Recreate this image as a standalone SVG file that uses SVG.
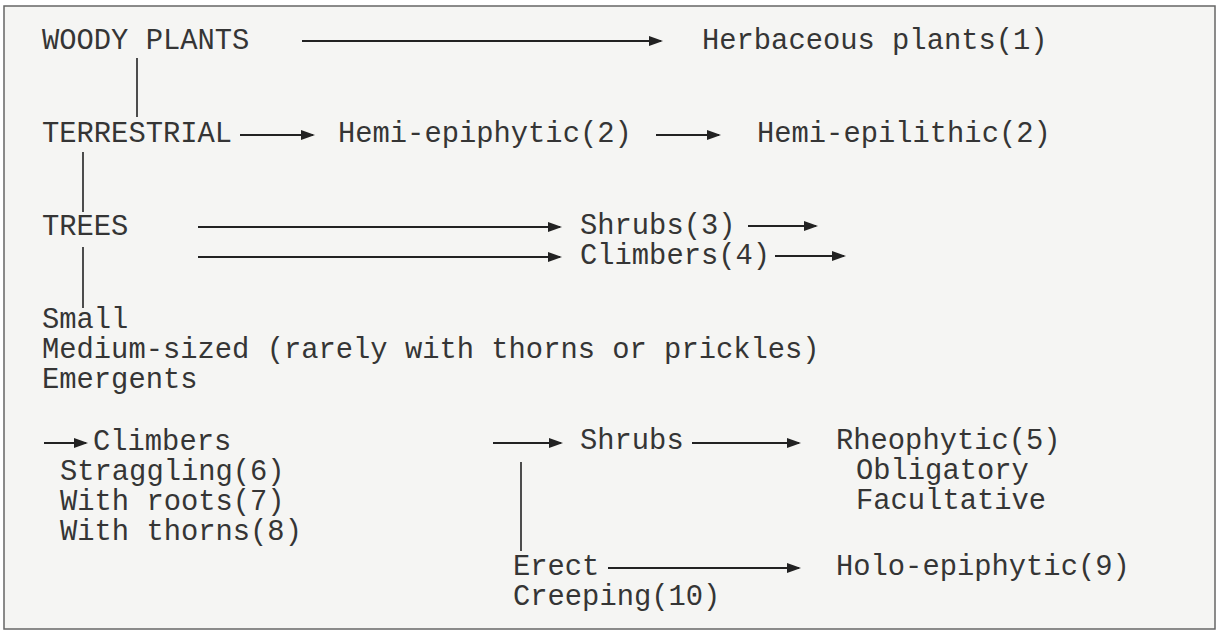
<svg xmlns="http://www.w3.org/2000/svg" width="1219" height="631" viewBox="0 0 1219 631">
<style>
text{font-family:"Liberation Mono","Courier New",monospace;font-size:28.8px;fill:#353535}
.c line{stroke:#222;stroke-width:2}
.c line.v{stroke-width:1.6}
.a{marker-end:url(#ah)}
</style>
<defs>
<marker id="ah" markerUnits="userSpaceOnUse" markerWidth="16" markerHeight="12" refX="12" refY="5" orient="auto">
<path d="M0,0 L14,5 L0,10 z" fill="#222"/>
</marker>
</defs>
<rect x="0" y="0" width="1219" height="631" fill="#fff"/>
<rect x="4" y="6" width="1211" height="623" fill="#f5f5f3" stroke="#666" stroke-width="1.5"/>
<g class="c" id="connectors">
<line class="a" x1="302" y1="41" x2="661" y2="41"/>
<line class="a" x1="240" y1="135" x2="313" y2="135"/>
<line class="a" x1="656" y1="135" x2="719" y2="135"/>
<line class="a" x1="198" y1="227" x2="560" y2="227"/>
<line class="a" x1="198" y1="257" x2="560" y2="257"/>
<line class="a" x1="748" y1="226" x2="816" y2="226"/>
<line class="a" x1="775" y1="256" x2="844" y2="256"/>
<line class="a" x1="44" y1="443" x2="86" y2="443"/>
<line class="a" x1="493" y1="443" x2="561" y2="443"/>
<line class="a" x1="692" y1="443" x2="799" y2="443"/>
<line class="a" x1="608" y1="568" x2="799" y2="568"/>
<line class="v" x1="137" y1="58" x2="137" y2="117"/>
<line class="v" x1="83" y1="152" x2="83" y2="212"/>
<line class="v" x1="83" y1="247" x2="83" y2="308"/>
<line class="v" x1="521" y1="462" x2="521" y2="551"/>
</g>
<g id="woody"><text x="42" y="49">WOODY PLANTS</text></g>
<g id="herbaceous"><text x="702" y="49">Herbaceous plants(1)</text></g>
<g id="terrestrial"><text x="42" y="142">TERRESTRIAL</text></g>
<g id="hemi-epiphytic"><text x="338" y="142">Hemi-epiphytic(2)</text></g>
<g id="hemi-epilithic"><text x="757" y="142">Hemi-epilithic(2)</text></g>
<g id="trees"><text x="42" y="235">TREES</text></g>
<g id="shrubs3"><text x="580" y="234">Shrubs(3)</text></g>
<g id="climbers4"><text x="580" y="264">Climbers(4)</text></g>
<g id="tree-sizes">
<text x="42" y="328">Small</text>
<text x="42" y="358">Medium-sized (rarely with thorns or prickles)</text>
<text x="42" y="388">Emergents</text>
</g>
<g id="climbers">
<text x="93" y="450">Climbers</text>
<text x="60" y="480">Straggling(6)</text>
<text x="60" y="510">With roots(7)</text>
<text x="60" y="540">With thorns(8)</text>
</g>
<g id="shrubs"><text x="580" y="449">Shrubs</text></g>
<g id="rheophytic">
<text x="836" y="449">Rheophytic(5)</text>
<text x="856" y="479">Obligatory</text>
<text x="856" y="509">Facultative</text>
</g>
<g id="shrub-forms">
<text x="513" y="575">Erect</text>
<text x="513" y="605">Creeping(10)</text>
</g>
<g id="holo-epiphytic"><text x="836" y="575">Holo-epiphytic(9)</text></g>
</svg>
